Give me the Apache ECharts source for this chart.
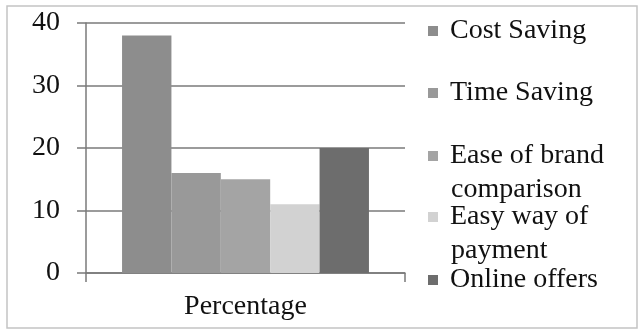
<!DOCTYPE html>
<html>
<head>
<meta charset="utf-8">
<script src="https://cdn.jsdelivr.net/npm/echarts@6/dist/echarts.min.js"></script>
<style>
  html, body { margin: 0; padding: 0; background: #fff; }
  #chart { width: 640px; height: 331px; }
</style>
</head>
<body>
<div id="chart"></div>
<script>
// Survey data
const categories = ['Percentage'];
const seriesNames = ['Cost Saving', 'Time Saving', 'Ease of brand comparison', 'Easy way of payment', 'Online offers'];
const seriesValues = [38, 16, 15, 11, 20];
const seriesColors = ['#8d8d8d', '#999999', '#a4a4a4', '#d2d2d2', '#6d6d6d'];
const yTicks = { min: 0, max: 40, interval: 10 };

// Legend first lines; wrapped remainders are drawn separately below
const legendFirstLine = ['Cost Saving', 'Time Saving', 'Ease of brand', 'Easy way of', 'Online offers'];
const legendSecondLine = ['', '', 'comparison', 'payment', ''];
const legendCenters = [29, 91, 154, 215, 278];

const FONT = 'Liberation Serif';
const FS = 28;
const TEXT = '#111111';

const chart = echarts.init(document.getElementById('chart'), null, { renderer: 'canvas' });

const legends = seriesNames.map((name, i) => ({
  data: [name],
  orient: 'vertical',
  left: 428,
  top: legendCenters[i] - 12,
  padding: 0,
  itemWidth: 10,
  itemHeight: 10,
  icon: 'rect',
  selectedMode: false,
  formatter: () => legendFirstLine[i],
  textStyle: { fontFamily: FONT, fontSize: FS, color: TEXT, padding: [0, 0, 0, 7] }
}));

const wrapTexts = [];
legendSecondLine.forEach((t, i) => {
  if (!t) return;
  wrapTexts.push({
    type: 'text',
    left: 451,
    top: legendCenters[i] + 34 - 12,
    style: { text: t, font: FS + 'px "' + FONT + '"', fill: TEXT }
  });
});

chart.setOption({
  animation: false,
  backgroundColor: '#fff',
  grid: { left: 86, right: 235, top: 23, bottom: 58 },
  legend: legends,
  xAxis: {
    type: 'category',
    data: categories,
    boundaryGap: true,
    axisLine: { show: true, lineStyle: { color: '#7a7a7a', width: 1.5 } },
    axisTick: { show: true, length: 9, lineStyle: { color: '#7a7a7a', width: 1.5 } },
    axisLabel: { fontFamily: FONT, fontSize: FS, color: TEXT, margin: 20 }
  },
  yAxis: {
    type: 'value',
    min: yTicks.min,
    max: yTicks.max,
    interval: yTicks.interval,
    axisLine: { show: true, lineStyle: { color: '#7a7a7a', width: 1.5 } },
    axisTick: { show: true, length: 9, lineStyle: { color: '#7a7a7a', width: 1.5 } },
    splitLine: { show: true, lineStyle: { color: '#7a7a7a', width: 1.5 } },
    axisLabel: { fontFamily: FONT, fontSize: FS, color: TEXT, margin: 26 }
  },
  series: seriesNames.map((name, i) => ({
    name: name,
    type: 'bar',
    data: [seriesValues[i]],
    barGap: '0%',
    barCategoryGap: '22.6%',
    itemStyle: { color: seriesColors[i] }
  })),
  graphic: [
    {
      type: 'rect',
      shape: { x: 7, y: 6, width: 630, height: 322 },
      style: { fill: 'none', stroke: '#c4c4c4', lineWidth: 1.5 },
      z: 100
    },
    ...wrapTexts
  ]
});
</script>
</body>
</html>
